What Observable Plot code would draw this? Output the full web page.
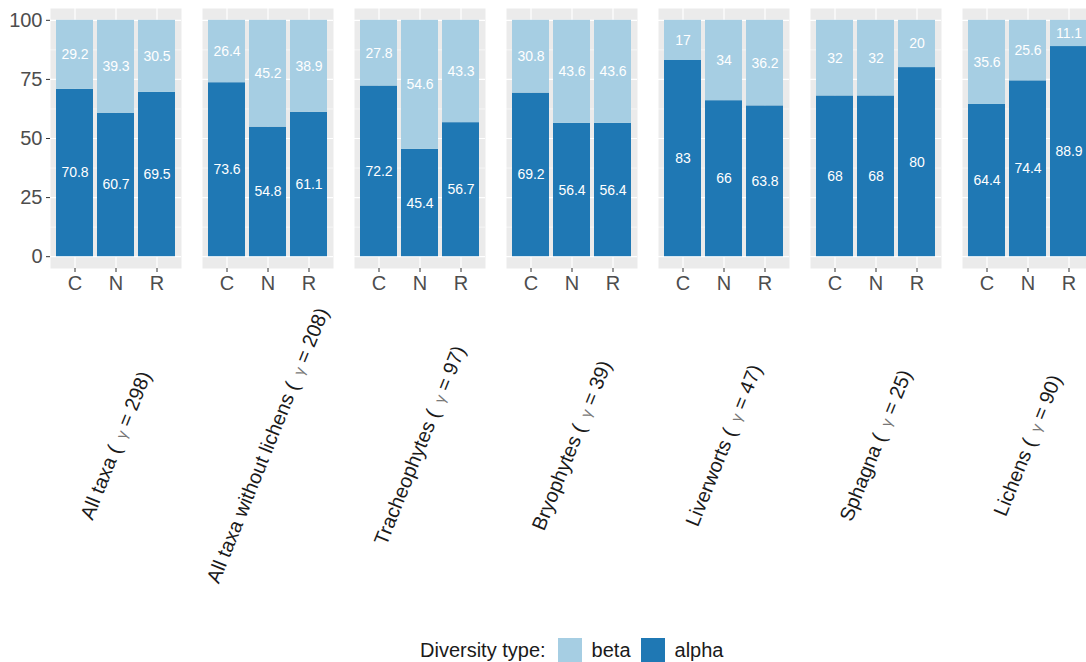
<!DOCTYPE html>
<html>
<head>
<meta charset="utf-8">
<script src="https://cdn.jsdelivr.net/npm/d3@7"></script>
<script src="https://cdn.jsdelivr.net/npm/@observablehq/plot@0.6"></script>
<style>
  html, body { margin: 0; padding: 0; background: white; overflow: hidden; }
  body { font-family: "Liberation Sans", Arial, Helvetica, sans-serif; width: 1086px; height: 662px; }
  #chart { width: 1086px; height: 630px; overflow: hidden; }
  #chart svg { max-width: none !important; }
  #legend { display: flex; align-items: center; height: 32px; padding-top: 4px; margin-left: 420px; font-size: 20px; color: #1a1a1a; }
  .sw { width: 24px; height: 24px; display: inline-block; margin: 0 10px 0 10px; }
</style>
</head>
<body>
<div id="chart"></div>
<div id="legend"></div>
<script>
const groups = ["All taxa", "All taxa without lichens", "Tracheophytes", "Bryophytes", "Liverworts", "Sphagna", "Lichens"];
const gammas = [298, 208, 97, 39, 47, 25, 90];
const sites = ["C", "N", "R"];
const alphaValues = [
  [70.8, 60.7, 69.5],
  [73.6, 54.8, 61.1],
  [72.2, 45.4, 56.7],
  [69.2, 56.4, 56.4],
  [83, 66, 63.8],
  [68, 68, 80],
  [64.4, 74.4, 88.9]
];
const betaValues = [
  [29.2, 39.3, 30.5],
  [26.4, 45.2, 38.9],
  [27.8, 54.6, 43.3],
  [30.8, 43.6, 43.6],
  [17, 34, 36.2],
  [32, 32, 20],
  [35.6, 25.6, 11.1]
];
const types = ["beta", "alpha"];
const typeColors = ["#A6CEE3", "#1F78B4"];
const yTicks = [0, 25, 50, 75, 100];
const yMinor = [12.5, 37.5, 62.5, 87.5];

const labels = groups.map((g, i) => `${g} ( γ = ${gammas[i]})`);
const rows = [];
groups.forEach((g, i) => {
  sites.forEach((s, j) => {
    rows.push({label: labels[i], site: s, type: "alpha", value: alphaValues[i][j]});
    rows.push({label: labels[i], site: s, type: "beta", value: betaValues[i][j]});
  });
});

const chart = Plot.plot({
  width: 1100,
  height: 630,
  marginLeft: 48,
  marginRight: 4,
  marginTop: 8,
  marginBottom: 362,
  style: {fontFamily: "'Liberation Sans', Arial, Helvetica, sans-serif", fontSize: "20px", background: "white", maxWidth: "none"},
  fx: {domain: labels, paddingInner: 0.135, paddingOuter: 0, axis: null, label: null},
  x: {domain: sites, paddingInner: 0.1, paddingOuter: 0.14, label: null, axis: null},
  y: {domain: [-5, 105], label: null, axis: null},
  color: {domain: types, range: typeColors},
  marks: [
    Plot.frame({fill: "#EBEBEB", stroke: null}),
    Plot.gridY(yMinor, {stroke: "white", strokeOpacity: 1, strokeWidth: 0.6}),
    Plot.gridY(yTicks, {stroke: "white", strokeOpacity: 1, strokeWidth: 1.2}),
    Plot.gridX(sites, {stroke: "white", strokeOpacity: 1, strokeWidth: 1.2}),
    Plot.barY(rows, Plot.stackY({fx: "label", x: "site", y: "value", fill: "type", order: null})),
    Plot.text(rows, Plot.stackY({fx: "label", x: "site", y: "value", order: null, text: d => String(d.value), fill: "white", fontSize: 14})),
    Plot.axisY(yTicks, {tickSize: 4, tickPadding: 4, fontSize: 20, fill: "#4D4D4D", stroke: "#333333", label: null, tickFormat: d => String(d)}),
    Plot.axisX(sites, {tickSize: 4, tickPadding: 3, fontSize: 20, fill: "#4D4D4D", stroke: "#333333", label: null}),
    Plot.text(labels, {fx: d => d, frameAnchor: "bottom", dy: 177, rotate: -68, text: d => d, fontSize: 20, fill: "#1a1a1a", textAnchor: "middle", lineAnchor: "middle"})
  ]
});
chart.style.maxWidth = "none";
document.getElementById("chart").appendChild(chart);

// style the gamma symbol smaller and grey
d3.select(chart).selectAll("text").each(function() {
  const t = this.textContent;
  if (t.includes("γ") && this.children.length === 0) {
    const [before, after] = t.split("γ");
    const sel = d3.select(this);
    sel.text("");
    sel.append("tspan").text(before + "\u2009");
    sel.append("tspan").attr("fill", "#777777").attr("font-size", "15px").text("γ");
    sel.append("tspan").text(after);
  }
});

// legend
const legend = d3.select("#legend");
legend.append("span").text("Diversity type:").style("margin-right", "2px");
types.forEach((t, i) => {
  legend.append("span").attr("class", "sw").style("background", typeColors[i]);
  legend.append("span").text(t);
});
</script>
</body>
</html>
